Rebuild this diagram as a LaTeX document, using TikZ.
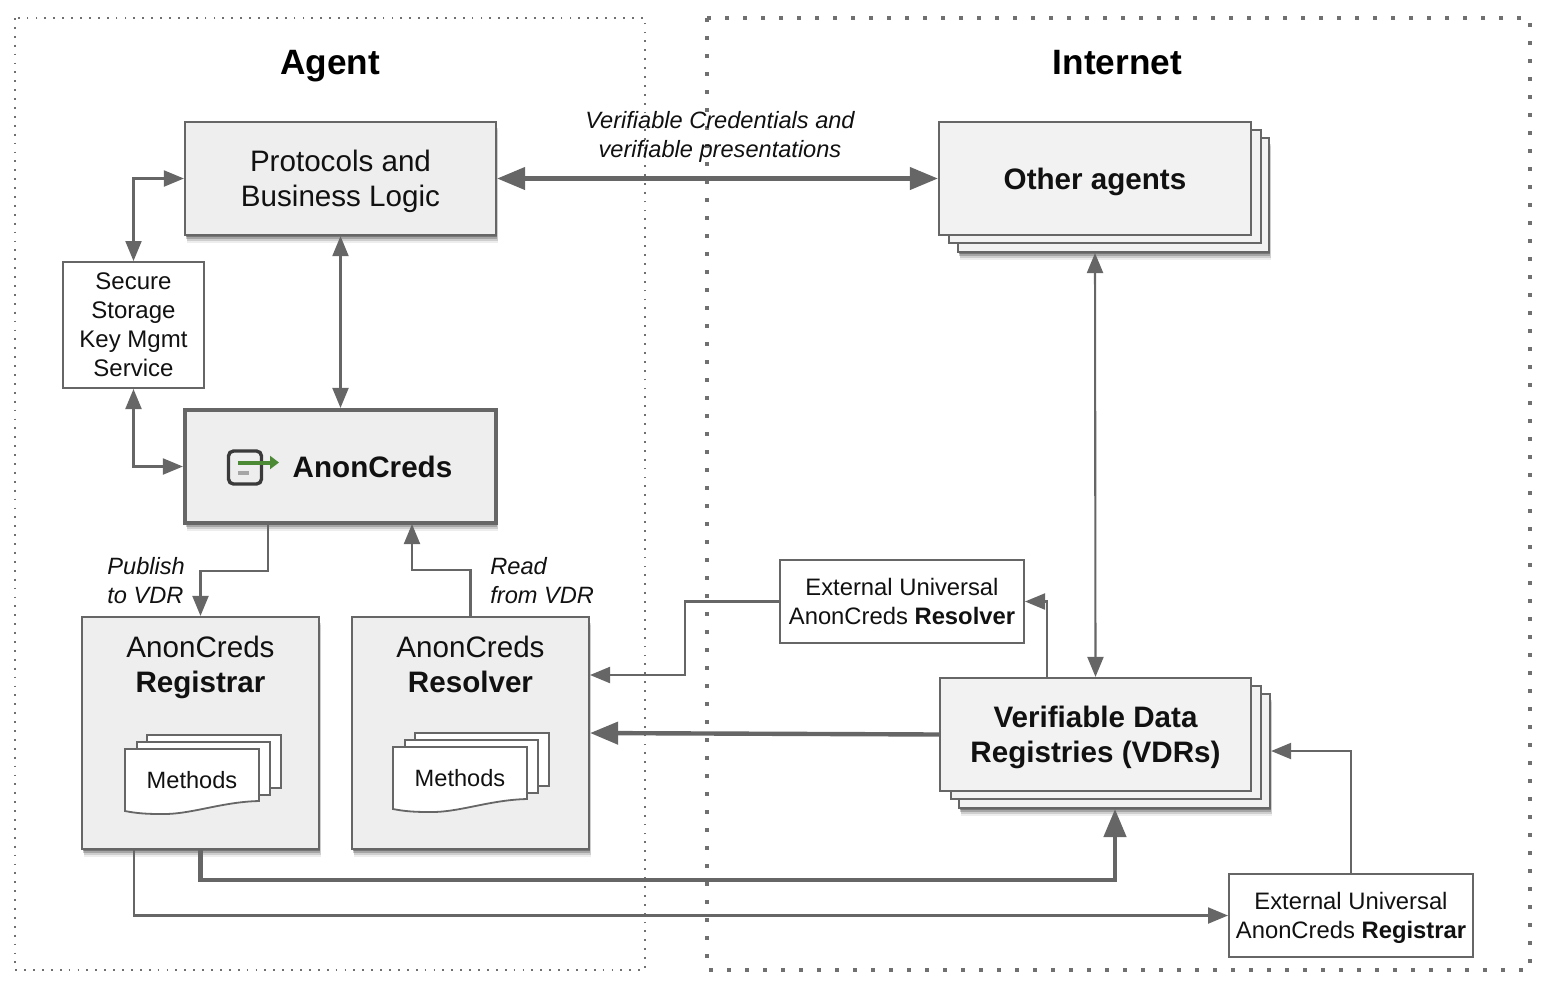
\documentclass[tikz,border=0pt]{standalone}
\usepackage{fontspec}
\setmainfont{Liberation Sans}
\usetikzlibrary{arrows.meta,shadows}
\definecolor{linegray}{HTML}{666666}
\definecolor{boxgray}{HTML}{EEEEEE}
\definecolor{stackgray}{HTML}{F2F2F2}
\definecolor{framegray}{HTML}{707070}
\definecolor{icondark}{HTML}{3A3A3A}
\definecolor{icongreen}{HTML}{4C8A35}
\definecolor{textdark}{HTML}{111111}
\tikzset{
  softshadow/.style={general shadow={shadow xshift=.3pt,shadow yshift=-1pt,fill=black,opacity=.28},
    general shadow={shadow xshift=.6pt,shadow yshift=-2pt,fill=black,opacity=.2},
    general shadow={shadow xshift=.8pt,shadow yshift=-3pt,fill=black,opacity=.13},
    general shadow={shadow xshift=1pt,shadow yshift=-4pt,fill=black,opacity=.07}},
  bigbox/.style={draw=linegray,line width=1.1pt,fill=boxgray,text=textdark,align=center,inner sep=0pt,
    font=\fontsize{14.8}{17.5}\selectfont},
  stackbox/.style={bigbox,fill=stackgray},
  smallbox/.style={draw=linegray,line width=1pt,fill=white,text=textdark,align=center,inner sep=0pt,
    font=\fontsize{11.9}{14.7}\selectfont},
  boxtitle/.style={text=textdark,align=center,inner sep=0pt,font=\fontsize{14.8}{17.5}\selectfont},
  frametitle/.style={text=black,inner sep=0pt,anchor=base,font=\fontsize{17.6}{20}\selectfont\bfseries},
  linklabel/.style={text=textdark,inner sep=0pt,font=\fontsize{11.8}{14.5}\selectfont\itshape},
  thinlink/.style={draw=linegray,line width=1.05pt,>={Triangle[length=10pt,width=8pt]}},
  heavylink/.style={draw=linegray,line width=2.2pt,>={Triangle[length=14pt,width=11pt]}},
  methods/.pic={
    \draw [draw=linegray,line width=.9pt,fill=white] (22,-14) rectangle (156,39);
    \draw [draw=linegray,line width=.9pt,fill=white] (12,-7) rectangle (145,46);
    \draw [draw=linegray,line width=.9pt,fill=white] (0,0) -- (134,0) -- (134,52)
      .. controls (95,53) and (65,66) .. (35,65) .. controls (20,65) and (10,64) .. (0,62) -- cycle;
    \node [text=textdark,inner sep=0pt,font=\fontsize{11.8}{14}\selectfont] (-label) at (67,31.5) {Methods};
  }
}
\begin{document}
\begin{tikzpicture}[x=0.5pt,y=-0.5pt]
\useasboundingbox (0,0) rectangle (1542,982);
\draw [framegray,line width=.9pt,dash pattern=on .9pt off 3.55pt] (15,18) rectangle (645,970);
\draw [framegray,line width=2.2pt,dash pattern=on 2.2pt off 6.8pt] (707,18) rectangle (1530,970);
\node [frametitle] (agenttitle) at (330,74) {Agent};
\node [frametitle] (internettitle) at (1117.5,74) {Internet};

\node [bigbox,softshadow,minimum width=155.5pt,minimum height=56.5pt] (protocols) at (340.5,178.5) {};
\node [boxtitle] (protocolslabel) at (340.5,181.5) {Protocols and\\Business Logic};
\node [smallbox,font=\fontsize{12}{14.5}\selectfont,minimum width=70.5pt,minimum height=63pt] (secure) at (133.5,325) {Secure\\Storage\\Key Mgmt\\Service};
\node [bigbox,softshadow,line width=2.1pt,minimum width=155.5pt,minimum height=56.5pt] (anoncreds) at (340.5,466.5) {};
\node [boxtitle,font=\fontsize{14.8}{17.5}\selectfont\bfseries] (anonlabel) at (372.5,467) {AnonCreds};
\node [draw=icondark,line width=1.7pt,rounded corners=2.5pt,minimum width=16.5pt,minimum height=16.5pt,inner sep=0pt] (anonicon) at (245,467.5) {};
\draw [icongreen,line width=2pt,-{Triangle[length=4.5pt,width=6.5pt]}] (anonicon.center) ++(-7,-5) coordinate (icontail) -- ++(41,0);
\draw [gray!70,line width=2pt] (238,472.5) -- (249,472.5);

\node [bigbox,softshadow,minimum width=118.5pt,minimum height=116pt] (registrar) at (200.5,733) {};
\node [boxtitle] (registrarlabel) at (200.5,667) {AnonCreds\\\textbf{Registrar}};
\pic (registrarmethods) at (125,749) {methods};
\node [bigbox,softshadow,minimum width=118.5pt,minimum height=116pt] (resolver) at (470.5,733) {};
\node [boxtitle] (resolverlabel) at (470.5,664) {AnonCreds\\\textbf{Resolver}};
\pic (resolvermethods) at (393,747) {methods};

\node [stackbox,softshadow,minimum width=155.5pt,minimum height=57pt] (otherback) at (1113.5,195) {};
\node [stackbox,minimum width=156pt,minimum height=56.5pt] (othermid) at (1105,186.5) {};
\node [stackbox,minimum width=156pt,minimum height=56.5pt] (other) at (1095,178.5) {};
\node [boxtitle,font=\fontsize{14.8}{17.5}\selectfont\bfseries] (otherlabel) at (1095,181.5) {Other agents};

\node [stackbox,softshadow,minimum width=155.5pt,minimum height=57pt] (vdrback) at (1114.5,751) {};
\node [stackbox,minimum width=155pt,minimum height=56.5pt] (vdrmid) at (1106,742.5) {};
\node [stackbox,minimum width=155.5pt,minimum height=56.5pt] (vdr) at (1095.5,734.5) {};
\node [boxtitle,font=\fontsize{14.8}{17.5}\selectfont\bfseries] (vdrlabel) at (1095.5,737.5) {Verifiable Data\\Registries (VDRs)};

\node [smallbox,minimum width=122pt,minimum height=41.5pt] (extresolver) at (902,601.5) {External Universal\\AnonCreds \textbf{Resolver}};
\node [smallbox,minimum width=122pt,minimum height=41.5pt] (extregistrar) at (1351,915.5) {};
\node [boxtitle,font=\fontsize{11.9}{14.7}\selectfont] (extregistrarlabel) at (1351,918) {External Universal\\AnonCreds \textbf{Registrar}};

\node [linklabel,align=center] (vclabel) at (720,137) {Verifiable Credentials and\\verifiable presentations};
\node [linklabel,align=left,anchor=west] (publishlabel) at (107,580.5) {Publish\\to VDR};
\node [linklabel,align=left,anchor=west] (readlabel) at (490,580.5) {Read\\from VDR};

\coordinate (otherlow) at (1095,253);
\coordinate (publishout) at (268,524);
\coordinate (publishbend) at (200.5,571);
\coordinate (readin) at (412,524);
\coordinate (readbend) at (412,570);
\coordinate (extbend) at (685,675);
\coordinate (extin) at (590,675);
\coordinate (vdrup) at (1047,678);
\coordinate (heavybend) at (1115,880);
\coordinate (vdrin) at (1115,809);
\coordinate (registrarout) at (134,850);

\draw [thinlink,<->] (protocols.west) -| (secure.north);
\draw [thinlink,<->] (secure.south) |- (anoncreds.west);
\draw [thinlink,<->] (protocols.south) -- (anoncreds.north);
\draw [heavylink,line width=2.1pt,<->] (protocols.east) -- (other.west);
\draw [thinlink,<->] (otherlow) -- (vdr.north);
\draw [thinlink,->] (publishout) |- (publishbend) -- (registrar.north);
\draw [thinlink,->] (resolver.north) |- (readbend) -- (readin);
\draw [thinlink,->] (extresolver.west) -| (extbend) -- (extin);
\draw [heavylink,->] (vdr.west) -- (resolver.east);
\draw [thinlink,->] (vdrup) |- (extresolver.east);
\draw [heavylink,->] (registrar.south) |- (heavybend) -- (vdrin);
\draw [thinlink,->] (registrarout) |- (extregistrar.west);
\draw [thinlink,->] (extregistrar.north) |- (vdrback.east);
\end{tikzpicture}
\end{document}
